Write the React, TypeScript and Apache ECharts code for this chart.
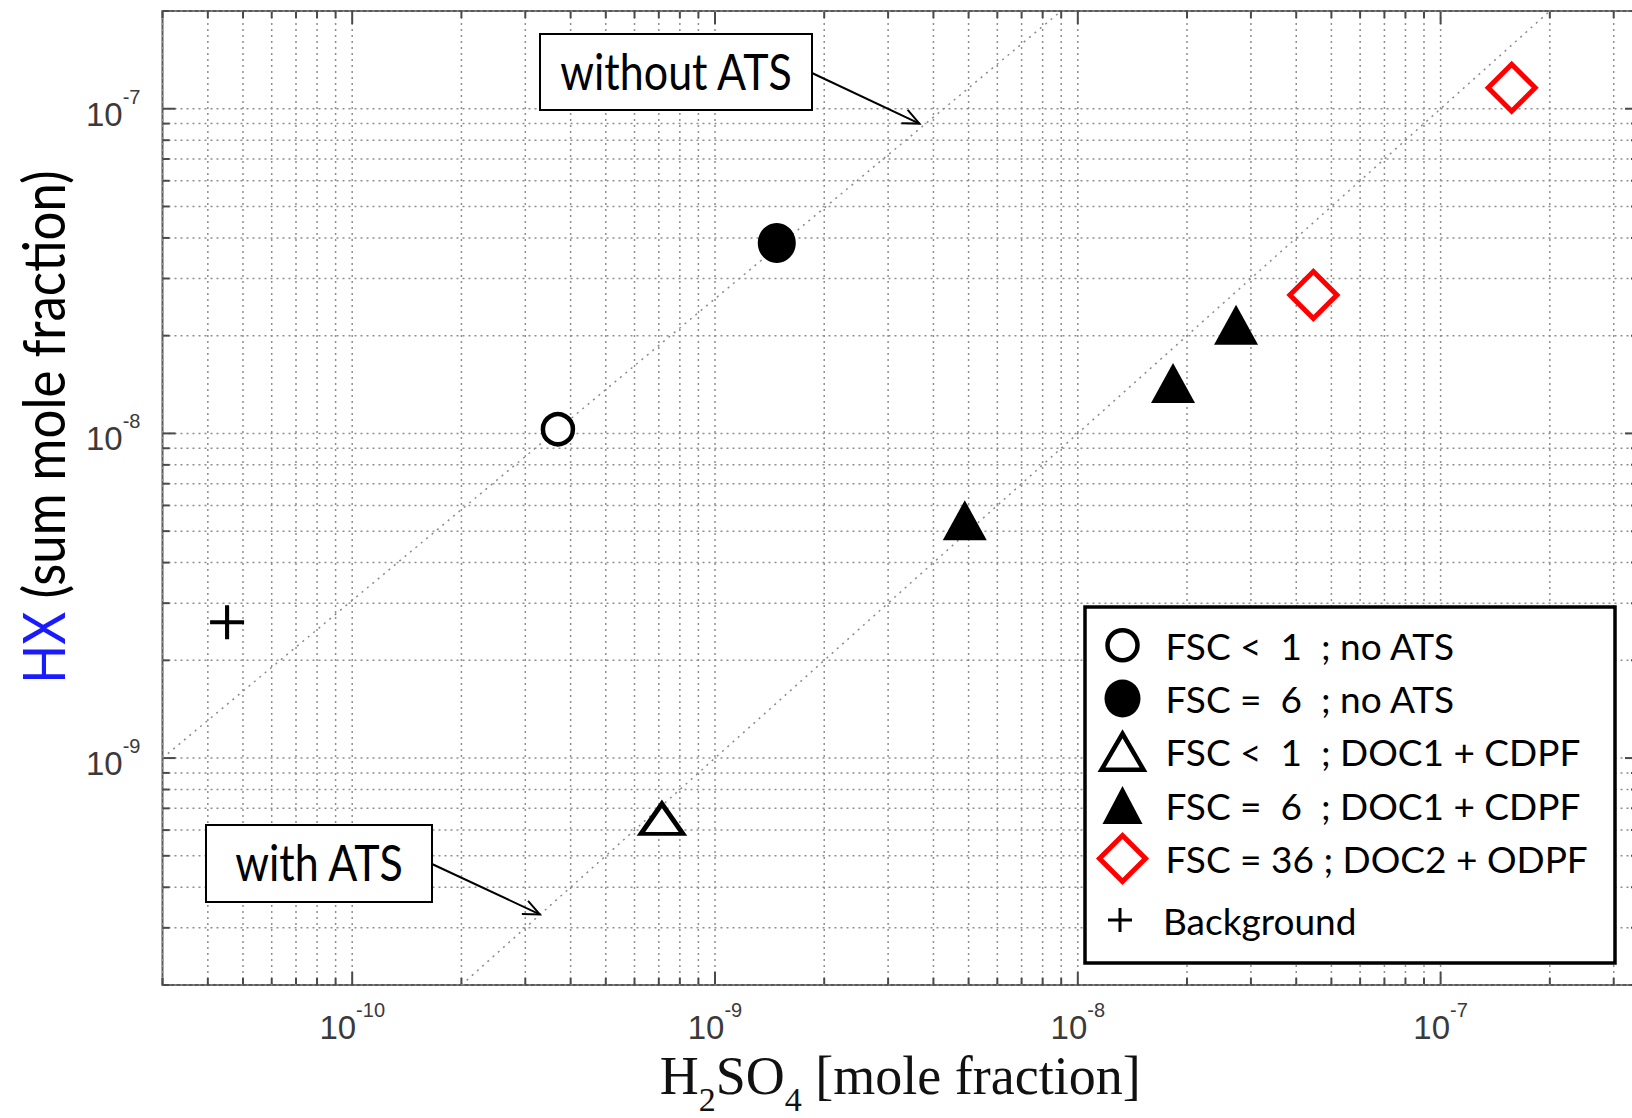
import React, { useEffect, useRef } from "react";
import * as echarts from "echarts";

// ---- axis ranges ----
const X_MIN = 3e-11;
const X_MAX = 3.5e-7;
const Y_MIN = 2e-10;
const Y_MAX = 2e-7;

// ---- grid / tick positions (mantissa x decade) ----
const tickMantissas = [1, 2, 3, 4, 5, 6, 7, 8, 9];
const xDecades = [-11, -10, -9, -8, -7];
const yDecades = [-10, -9, -8, -7];

// ---- series names ----
const seriesNames = [
  "FSC <  1  ; no ATS",
  "FSC =  6  ; no ATS",
  "FSC <  1  ; DOC1 + CDPF",
  "FSC =  6  ; DOC1 + CDPF",
  "FSC = 36 ; DOC2 + ODPF",
  "Background",
];

// ---- data [H2SO4, HX] ----
const fsc1NoAts = [[3.69e-10, 1.03e-8]];
const fsc6NoAts = [[1.48e-9, 3.86e-8]];
const fsc1Doc1 = [[7.14e-10, 6.5e-10]];
const fsc6Doc1 = [
  [4.88e-9, 5.4e-9],
  [1.83e-8, 1.43e-8],
  [2.73e-8, 2.16e-8],
];
const fsc36Doc2 = [
  [4.46e-8, 2.67e-8],
  [1.57e-7, 1.16e-7],
];
const backgroundPts = [[4.52e-11, 2.62e-9]];

// ---- reference lines ----
const withoutAtsLine = [
  [3e-11, 1e-9],
  [9e-9, 2e-7],
];
const withAtsLine = [
  [2e-10, 2e-10],
  [2e-7, 2e-7],
];
const withoutAtsArrowTip = [3.66e-9, 9.0e-8];
const withAtsArrowTip = [3.29e-10, 3.3e-10];

const SANS = "Lato, 'Open Sans', sans-serif";
const ARIAL = "'Liberation Sans', Arial, sans-serif";
const SERIF = "'Liberation Serif', 'Times New Roman', serif";

function buildGridItems() {
  const items: number[][] = [];
  for (const d of xDecades) {
    for (const m of tickMantissas) {
      const v = m * Math.pow(10, d);
      if (v >= X_MIN * 0.999 && v <= X_MAX * 1.001) items.push([v, Y_MIN, 0, m === 1 ? 1 : 0]);
    }
  }
  for (const d of yDecades) {
    for (const m of tickMantissas) {
      const v = m * Math.pow(10, d);
      if (v >= Y_MIN * 0.999 && v <= Y_MAX * 1.001) items.push([X_MIN, v, 1, m === 1 ? 1 : 0]);
    }
  }
  return items;
}

const expLabel = (v: number) => `{b|10}{s|${Math.round(Math.log10(v))}}`;
const labelRich = {
  b: { fontSize: 33, lineHeight: 44, verticalAlign: "bottom", fontFamily: ARIAL, color: "#3a3a3a" },
  s: { fontSize: 20, lineHeight: 20, verticalAlign: "top", fontFamily: ARIAL, color: "#3a3a3a" },
};

function arrow(from: number[], to: number[]) {
  const dx = to[0] - from[0];
  const dy = to[1] - from[1];
  const L = Math.hypot(dx, dy);
  const ux = dx / L;
  const uy = dy / L;
  const len = 18;
  const ang = 0.42;
  const rot = (a: number) => [
    to[0] - len * (ux * Math.cos(a) - uy * Math.sin(a)),
    to[1] - len * (uy * Math.cos(a) + ux * Math.sin(a)),
  ];
  return [
    {
      type: "line",
      z: 12,
      shape: { x1: from[0], y1: from[1], x2: to[0], y2: to[1] },
      style: { stroke: "#000", lineWidth: 2 },
    },
    {
      type: "polyline",
      z: 12,
      shape: { points: [rot(ang), to, rot(-ang)] },
      style: { stroke: "#000", lineWidth: 2, fill: null },
    },
  ];
}

function boxText(text: string, x: number, y: number) {
  return {
    type: "text",
    z: 11,
    x,
    y,
    scaleY: 1.15,
    style: {
      text,
      fontSize: 43,
      fontFamily: SANS,
      fill: "#000",
      align: "center",
      verticalAlign: "middle",
      textAlign: "center",
      textVerticalAlign: "middle",
    },
  };
}

export default function App() {
  const ref = useRef<HTMLDivElement>(null);
  useEffect(() => {
    const chart = echarts.init(ref.current!, null, { renderer: "svg" });
    const scatterBase = { type: "scatter", z: 5, emphasis: { disabled: true }, silent: true };
    const legendText = { fontSize: 37, fontFamily: SANS, color: "#000" };
    const option: any = {
      animation: false,
      backgroundColor: "#fff",
      grid: {
        left: 162.5,
        top: 11,
        right: -6,
        bottom: 133,
        containLabel: false,
        outerBoundsMode: "none",
        show: true,
        borderColor: "#5a5a5a",
        borderWidth: 2,
        backgroundColor: "transparent",
      },
      xAxis: {
        type: "log",
        logBase: 10,
        min: X_MIN,
        max: X_MAX,
        splitLine: { show: false },
        axisTick: { show: false },
        axisLine: { show: false },
        axisLabel: {
          formatter: expLabel,
          rich: labelRich,
          margin: 15,
          showMinLabel: false,
          showMaxLabel: false,
        },
        name: "{n|H}{sub|2}{n|SO}{sub|4}{n| [mole fraction]}",
        nameLocation: "middle",
        nameGap: 20,
        nameTextStyle: {
          rich: {
            n: { fontSize: 54, lineHeight: 54, verticalAlign: "top", fontFamily: SERIF, color: "#111" },
            sub: {
              fontSize: 34,
              lineHeight: 34,
              padding: [34, 0, 0, 0],
              verticalAlign: "top",
              fontFamily: SERIF,
              color: "#111",
            },
          },
        },
      },
      yAxis: {
        type: "log",
        logBase: 10,
        min: Y_MIN,
        max: Y_MAX,
        splitLine: { show: false },
        axisTick: { show: false },
        axisLine: { show: false },
        axisLabel: {
          formatter: expLabel,
          rich: labelRich,
          margin: 22,
          showMinLabel: false,
          showMaxLabel: false,
        },
      },
      legend: [
        {
          orient: "vertical",
          left: 1082,
          top: 618,
          itemWidth: 76,
          itemHeight: 50,
          itemGap: 1,
          padding: 0,
          selectedMode: false,
          z: 20,
          textStyle: legendText,
          data: [
            {
              name: seriesNames[0],
              icon: "path://M0,0M76,50M53,25A15,15,0,1,1,23,25A15,15,0,1,1,53,25Z",
              itemStyle: { color: "#fff", borderColor: "#000", borderWidth: 4.5, opacity: 1 },
            },
            {
              name: seriesNames[1],
              icon: "path://M0,0M76,50M56,25A18,19,0,1,1,20,25A18,19,0,1,1,56,25Z",
              itemStyle: { color: "#000", borderColor: "#000", borderWidth: 0, opacity: 1 },
            },
            {
              name: seriesNames[2],
              icon: "path://M0,0M76,50M38,7L59,43L17,43Z",
              itemStyle: { color: "#fff", borderColor: "#000", borderWidth: 4.5, opacity: 1 },
            },
            {
              name: seriesNames[3],
              icon: "path://M0,0M76,50M38,6L58,44L18,44Z",
              itemStyle: { color: "#000", borderColor: "#000", borderWidth: 0, opacity: 1 },
            },
            {
              name: seriesNames[4],
              icon: "path://M0,0M76,50M38,2L61,25L38,48L15,25Z",
              itemStyle: { color: "#fff", borderColor: "#f00", borderWidth: 5, opacity: 1 },
            },
          ],
        },
        {
          orient: "vertical",
          left: 1082,
          top: 895,
          itemWidth: 76,
          itemHeight: 50,
          padding: 0,
          selectedMode: false,
          z: 20,
          textStyle: legendText,
          data: [
            {
              name: seriesNames[5],
              icon: "path://M0,0M76,50M36.5,13h3v10.5h10.5v3h-10.5v10.5h-3v-10.5h-10.5v-3h10.5Z",
              itemStyle: { color: "#000", borderColor: "#000", borderWidth: 0, opacity: 1 },
            },
          ],
        },
      ],
      series: [
        {
          type: "custom",
          name: "grid",
          silent: true,
          z: 1,
          clip: false,
          encode: { x: 0, y: 1 },
          data: buildGridItems(),
          renderItem: (params: any, api: any) => {
            const cs = params.coordSys;
            const left = cs.x;
            const top = cs.y;
            const right = cs.x + cs.width;
            const bottom = cs.y + cs.height;
            const flag = api.value(2);
            const major = api.value(3) === 1;
            const tl = major ? 13 : 7;
            const gridStyle = { stroke: "#8e8e8e", lineWidth: 1.5, lineDash: [2, 4] };
            const tickStyle = { stroke: "#4a4a4a", lineWidth: 2 };
            if (flag === 0) {
              const px = api.coord([api.value(0), Y_MIN])[0];
              return {
                type: "group",
                children: [
                  { type: "line", shape: { x1: px, y1: top, x2: px, y2: bottom }, style: gridStyle },
                  { type: "line", shape: { x1: px, y1: bottom, x2: px, y2: bottom - tl }, style: tickStyle },
                  { type: "line", shape: { x1: px, y1: top, x2: px, y2: top + tl }, style: tickStyle },
                ],
              };
            }
            const py = api.coord([X_MIN, api.value(1)])[1];
            return {
              type: "group",
              children: [
                { type: "line", shape: { x1: left, y1: py, x2: right, y2: py }, style: gridStyle },
                { type: "line", shape: { x1: left, y1: py, x2: left + tl, y2: py }, style: tickStyle },
                { type: "line", shape: { x1: right, y1: py, x2: right - tl, y2: py }, style: tickStyle },
              ],
            };
          },
        },
        {
          type: "line",
          name: "without ATS",
          data: withoutAtsLine,
          showSymbol: false,
          silent: true,
          z: 2,
          lineStyle: { color: "#8a8a8a", width: 1.5, type: [2, 5] },
        },
        {
          type: "line",
          name: "with ATS",
          data: withAtsLine,
          showSymbol: false,
          silent: true,
          z: 2,
          lineStyle: { color: "#8a8a8a", width: 1.5, type: [2, 5] },
        },
        {
          ...scatterBase,
          name: seriesNames[0],
          data: fsc1NoAts,
          symbol: "circle",
          symbolSize: 30,
          itemStyle: { color: "#fff", borderColor: "#000", borderWidth: 4.5, opacity: 1 },
        },
        {
          ...scatterBase,
          name: seriesNames[1],
          data: fsc6NoAts,
          symbol: "circle",
          symbolSize: [38, 40],
          itemStyle: { color: "#000", opacity: 1 },
        },
        {
          ...scatterBase,
          name: seriesNames[2],
          data: fsc1Doc1,
          symbol: "triangle",
          symbolSize: [42, 30],
          itemStyle: { color: "#fff", borderColor: "#000", borderWidth: 4.5, opacity: 1 },
        },
        {
          ...scatterBase,
          name: seriesNames[3],
          data: fsc6Doc1,
          symbol: "triangle",
          symbolSize: [44, 40],
          itemStyle: { color: "#000", opacity: 1 },
        },
        {
          ...scatterBase,
          name: seriesNames[4],
          data: fsc36Doc2,
          symbol: "diamond",
          symbolSize: [47, 47],
          itemStyle: { color: "#fff", borderColor: "#f00", borderWidth: 5, opacity: 1 },
        },
        {
          ...scatterBase,
          name: seriesNames[5],
          data: backgroundPts,
          symbol: "path://M8.8,0h2.4v8.8h8.8v2.4h-8.8v8.8h-2.4v-8.8h-8.8v-2.4h8.8Z",
          symbolSize: 34,
          itemStyle: { color: "#000", opacity: 1 },
        },
      ],
    };
    chart.setOption(option);

    const tip1 = chart.convertToPixel({ gridIndex: 0 }, withoutAtsArrowTip) as number[];
    const tip2 = chart.convertToPixel({ gridIndex: 0 }, withAtsArrowTip) as number[];

    const graphic: any[] = [
      // legend frame
      {
        type: "rect",
        z: 10,
        shape: { x: 1085, y: 607, width: 530, height: 356 },
        style: { fill: "#fff", stroke: "#000", lineWidth: 3.5 },
      },
      // without ATS annotation
      {
        type: "rect",
        z: 10,
        shape: { x: 540, y: 34, width: 272, height: 76 },
        style: { fill: "#fff", stroke: "#000", lineWidth: 2 },
      },
      boxText("without ATS", 676, 71),
      ...arrow([812, 73], tip1),
      // with ATS annotation
      {
        type: "rect",
        z: 10,
        shape: { x: 206, y: 825, width: 226, height: 77 },
        style: { fill: "#fff", stroke: "#000", lineWidth: 2 },
      },
      boxText("with ATS", 319, 862),
      ...arrow([432, 864], tip2),
      // y axis title
      {
        type: "text",
        z: 11,
        x: 43,
        y: 427,
        rotation: Math.PI / 2,
        scaleY: 1.12,
        style: {
          text: "{b|HX} (sum mole fraction)",
          fontSize: 51,
          fontFamily: SANS,
          fill: "#000",
          align: "center",
          verticalAlign: "middle",
          textAlign: "center",
          textVerticalAlign: "middle",
          rich: {
            b: { fontSize: 51, fontFamily: SANS, fill: "#1a1aff" },
          },
        },
      },
    ];
    chart.setOption({ graphic });
    return () => chart.dispose();
  }, []);
  return (
    <div
      ref={ref}
      style={{ position: "fixed", left: 0, top: 0, width: 1632, height: 1118, background: "#fff" }}
    />
  );
}
